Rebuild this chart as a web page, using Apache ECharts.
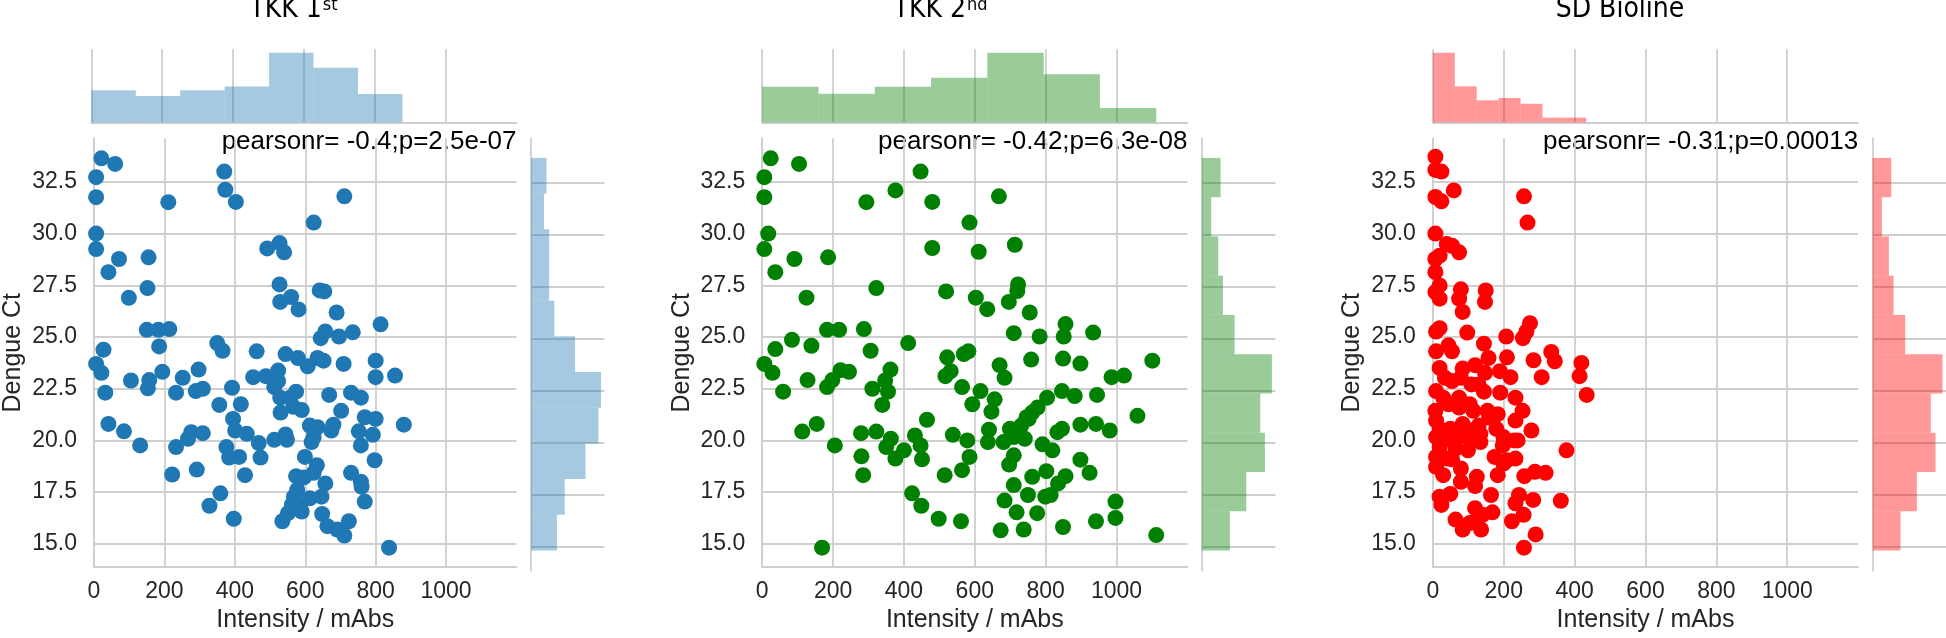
<!DOCTYPE html>
<html><head><meta charset="utf-8">
<script src="https://cdn.jsdelivr.net/npm/echarts@6/dist/echarts.min.js"></script>
<style>html,body{margin:0;padding:0;background:#fff}#c{width:1946px;height:638px}</style>
</head><body><div id="c"></div>
<script>
// ---------- data ----------
const panelTitles = ['TKK 1', 'TKK 2', 'SD Bioline'];
const panelTitleSup = ['st', 'nd', ''];
const pearsonLabels = ['pearsonr= -0.4;p=2.5e-07', 'pearsonr= -0.42;p=6.3e-08', 'pearsonr= -0.31;p=0.00013'];
const xName = 'Intensity / mAbs';
const yName = 'Dengue Ct';
const xTicks = [0, 200, 400, 600, 800, 1000];
const yTicks = [15, 17.5, 20, 22.5, 25, 27.5, 30, 32.5];
const xLimits = [0, 1200];
const yLimits = [13.87, 34.62];

const tkk1Points = [[21,33.65],[60,33.38],[6,32.74],[6,31.77],[6,30.01],[6,29.26],[211,31.53],[370,33.01],[373,32.13],[403,31.54],[711,31.81],[624,30.54],[492,29.29],[527,29.55],[540,29.1],[71,28.78],[155,28.86],[41,28.14],[152,27.37],[99,26.9],[527,27.55],[529,26.7],[560,26.94],[581,26.34],[641,27.26],[654,27.21],[689,26.19],[814,25.62],[150,25.35],[183,25.35],[214,25.39],[185,24.55],[27,24.39],[350,24.71],[365,24.34],[462,24.31],[544,24.18],[579,23.99],[607,23.59],[635,23.99],[652,23.86],[644,24.95],[657,25.27],[696,25.03],[735,25.23],[709,23.7],[800,23.86],[800,23.06],[855,23.14],[880,20.76],[6,23.7],[21,23.27],[32,22.31],[105,22.9],[157,22.92],[153,22.52],[194,23.32],[252,23.03],[233,22.31],[297,23.43],[289,22.39],[309,22.5],[392,22.55],[417,21.75],[356,21.72],[452,23.06],[488,23.11],[523,23.38],[523,22.87],[512,22.58],[529,22.07],[530,21.35],[557,22.07],[574,22.36],[566,21.63],[590,21.47],[668,22.2],[730,22.31],[758,22.07],[702,21.43],[41,20.8],[85,20.44],[131,19.76],[233,19.68],[267,20.08],[276,20.4],[309,20.35],[395,21.04],[401,20.48],[434,20.32],[376,19.68],[384,19.17],[412,19.2],[468,19.87],[473,19.17],[512,20.03],[544,20.29],[548,20.03],[613,20.72],[635,20.64],[624,20.16],[618,19.92],[680,20.76],[674,20.48],[752,20.44],[769,21.12],[800,21.04],[792,20.27],[758,19.76],[797,19.04],[599,19.2],[633,18.8],[624,18.43],[574,18.27],[596,18.21],[657,17.92],[222,18.35],[292,18.59],[429,18.32],[730,18.43],[758,18.0],[760,17.76],[769,17.04],[359,17.44],[328,16.84],[397,16.21],[568,17.28],[585,16.88],[613,17.2],[646,17.28],[551,16.48],[590,16.56],[535,16.09],[648,16.44],[663,15.85],[691,15.69],[711,15.4],[724,16.09],[838,14.81],[577,17.6],[562,16.88]];

const tkk2Points = [[24,33.65],[104,33.38],[447,33.01],[6,32.74],[376,32.1],[294,31.53],[480,31.54],[668,31.81],[6,31.77],[585,30.54],[17,30.01],[6,29.26],[480,29.31],[611,29.13],[713,29.47],[91,28.78],[186,28.86],[37,28.14],[322,27.37],[519,27.21],[125,26.91],[603,26.91],[722,27.55],[720,27.23],[696,26.7],[635,26.35],[755,26.19],[856,25.63],[183,25.35],[217,25.35],[287,25.39],[84,24.87],[37,24.42],[139,24.58],[306,24.34],[412,24.71],[710,25.19],[783,25.03],[851,25.03],[934,25.22],[569,24.18],[582,24.31],[522,24.02],[759,23.91],[849,23.96],[898,23.72],[1101,23.86],[6,23.7],[29,23.27],[59,22.36],[128,22.92],[183,22.58],[198,22.92],[221,23.4],[245,23.32],[311,22.5],[339,21.72],[347,22.9],[355,22.36],[362,23.43],[517,23.11],[532,23.35],[564,22.58],[593,21.75],[616,22.39],[656,21.99],[647,21.39],[670,23.64],[684,23.03],[945,22.2],[986,23.06],[1021,23.14],[1059,21.19],[804,22.07],[846,22.39],[882,22.15],[777,21.59],[746,21.12],[465,21.0],[113,20.43],[154,20.8],[205,19.76],[279,20.35],[322,20.43],[280,19.23],[285,18.32],[350,19.68],[363,20.08],[376,19.12],[400,19.52],[431,20.24],[447,19.76],[451,19.09],[538,20.27],[579,20.0],[585,19.2],[564,18.56],[515,18.32],[640,20.52],[637,19.92],[681,19.92],[699,20.56],[710,20.16],[741,20.08],[752,21.04],[791,19.81],[819,19.52],[833,20.4],[846,20.56],[898,20.76],[942,20.8],[981,20.48],[710,19.28],[697,18.83],[898,19.07],[924,18.43],[762,18.24],[802,18.51],[835,17.92],[856,18.27],[710,17.84],[750,17.36],[799,17.28],[814,17.36],[684,17.09],[718,16.52],[776,16.48],[423,17.44],[449,16.84],[498,16.21],[561,16.09],[673,15.65],[738,15.69],[849,15.81],[942,16.09],[997,17.04],[997,16.25],[1112,15.42],[169,14.81],[762,21.35],[731,20.72]];

const sdPoints = [[7,33.73],[7,33.09],[24,33.01],[59,32.1],[7,31.78],[24,31.57],[257,31.81],[267,30.54],[7,30.01],[39,29.5],[74,29.1],[19,28.94],[7,28.14],[19,27.5],[79,27.31],[149,27.26],[74,26.86],[19,26.86],[147,26.7],[84,26.22],[274,25.67],[19,25.43],[97,25.22],[207,25.03],[254,24.95],[264,25.27],[144,24.68],[44,24.6],[54,24.31],[9,24.31],[334,24.28],[344,23.83],[419,23.75],[414,23.11],[434,22.2],[284,23.88],[307,23.06],[209,24.02],[157,23.99],[119,23.64],[84,23.48],[147,23.27],[189,23.35],[219,23.06],[19,23.51],[34,23.03],[54,22.87],[79,23.03],[109,22.71],[144,22.36],[190,22.31],[233,22.07],[9,22.39],[29,22.07],[44,21.75],[74,21.59],[104,21.75],[114,21.43],[154,21.43],[183,21.27],[253,21.43],[233,20.96],[278,20.48],[9,20.96],[19,20.56],[49,20.56],[84,20.8],[109,20.48],[134,20.32],[179,20.56],[199,20.16],[239,20.0],[9,20.16],[39,20.08],[74,20.16],[104,20.08],[134,19.92],[19,19.68],[64,19.6],[197,19.76],[229,20.0],[377,19.52],[9,19.2],[39,19.12],[174,19.2],[199,18.88],[233,19.12],[29,18.32],[79,18.64],[124,18.24],[183,18.32],[258,18.27],[288,18.48],[318,18.43],[79,18.0],[119,17.79],[49,17.41],[24,16.88],[19,17.28],[164,17.36],[243,17.36],[233,16.96],[283,17.12],[361,17.08],[64,16.17],[84,15.69],[119,16.72],[119,16.09],[136,15.69],[140,16.4],[168,16.52],[223,16.09],[256,16.4],[290,15.45],[257,14.81],[104,16.0],[9,18.72],[7,21.43],[9,25.27],[7,27.18],[7,28.78],[54,29.42],[129,22.71],[74,22.07],[159,21.11],[209,19.04],[54,19.09],[99,19.52],[129,20.72]];

// marginal histograms (bin counts, equal-width bins spanning the given range)
const tkk1XHist = [17, 14, 17, 19, 37, 29, 15];
const tkk2XHist = [20, 16, 20, 25, 39, 27, 8];
const sdXHist = [60, 31, 19, 21, 16, 4, 4];
const tkk1XHistRange = [0, 878];
const tkk2XHistRange = [0, 1112];
const sdXHistRange = [0, 433];
// y histograms, bins from bottom to top
const tkk1YHist = [10, 13, 21, 26, 27, 17, 9, 7, 7, 5, 6];
const tkk2YHist = [12, 19, 27, 25, 30, 14, 9, 7, 4, 8];
const sdYHist = [12, 19, 27, 25, 30, 14, 9, 7, 4, 8];
const yHistRange = [14.84, 33.68];

const seriesColors = ['#1f77b4', '#008000', '#ff0000'];

// ---------- layout / style ----------
const panels = [
  {pts: tkk1Points, xh: tkk1XHist, xr: tkk1XHistRange, yh: tkk1YHist},
  {pts: tkk2Points, xh: tkk2XHist, xr: tkk2XHistRange, yh: tkk2YHist},
  {pts: sdPoints, xh: sdXHist, xr: sdXHistRange, yh: sdYHist}
];
const panelLeft = [91.3, 762.2, 1432.9];
const titleCenter = [293, 940, 1620];
const mainW = 425.2, mainTop = 138.3, mainH = 432.4;
const topTop = 49.3, topH = 73;
const rightGap = 14.5, rightW = 73.5;
const gridColor = '#cfcfcf';
const gridWidth = 1.8;
const sansFont = '"Liberation Sans", Arial, sans-serif';
const narrowFont = '"Liberation Sans Narrow", "DejaVu Sans Condensed", "Liberation Sans", sans-serif';
const textColor = '#262626';
const titleMainSize = 28, titleSupSize = 18;

function histSeries(counts, range, xi, yi, color, horizontal) {
  const n = counts.length, w = (range[1] - range[0]) / n;
  const data = counts.map((c, i) => [range[0] + i * w, range[0] + (i + 1) * w, c]);
  return {
    type: 'custom', xAxisIndex: xi, yAxisIndex: yi, data: data, silent: true,
    encode: horizontal ? {x: 2, y: [0, 1]} : {x: [0, 1], y: 2},
    renderItem: function (params, api) {
      const a = api.value(0), b = api.value(1), c = api.value(2);
      let p0, p1;
      if (!horizontal) { p0 = api.coord([a, 0]); p1 = api.coord([b, c]); }
      else { p0 = api.coord([0, a]); p1 = api.coord([c, b]); }
      return {
        type: 'rect',
        shape: {x: Math.min(p0[0], p1[0]), y: Math.min(p0[1], p1[1]),
                width: Math.abs(p1[0] - p0[0]), height: Math.abs(p1[1] - p0[1])},
        style: {fill: color, opacity: 0.4}
      };
    }
  };
}

const measureCtx = document.createElement('canvas').getContext('2d');
function textWidth(str, size, family) {
  measureCtx.font = size + 'px ' + family;
  return measureCtx.measureText(str).width;
}

const grid = [], xAxis = [], yAxis = [], series = [], graphic = [];
const lineStyle = {color: gridColor, width: gridWidth};

panels.forEach((p, k) => {
  const L = panelLeft[k];
  const g0 = grid.length;
  grid.push({left: L, top: mainTop, width: mainW, height: mainH});
  grid.push({left: L, top: topTop, width: mainW, height: topH});
  grid.push({left: L + mainW + rightGap, top: mainTop, width: rightW, height: mainH});

  // main axes
  xAxis.push({gridIndex: g0, type: 'value', min: xLimits[0], max: xLimits[1],
    axisLine: {show: true, onZero: false, lineStyle: lineStyle},
    axisTick: {show: false, customValues: xTicks},
    axisLabel: {customValues: xTicks, fontSize: 23, color: textColor, fontFamily: sansFont, margin: 13,
      formatter: v => String(v)},
    splitLine: {show: true, lineStyle: lineStyle},
    name: xName, nameLocation: 'middle', nameGap: 33,
    nameTextStyle: {fontSize: 25, color: textColor, fontFamily: sansFont}});
  yAxis.push({gridIndex: g0, type: 'value', min: yLimits[0], max: yLimits[1],
    axisLine: {show: true, onZero: false, lineStyle: lineStyle},
    axisTick: {show: false, customValues: yTicks},
    axisLabel: {customValues: yTicks, fontSize: 23, color: textColor, fontFamily: sansFont, margin: 17,
      formatter: v => Number(v).toFixed(1)},
    splitLine: {show: true, lineStyle: lineStyle},
    name: yName, nameLocation: 'middle', nameRotate: 90, nameGap: 68,
    nameTextStyle: {fontSize: 25, color: textColor, fontFamily: sansFont}});

  // top marginal
  const xmax = Math.max.apply(null, p.xh);
  xAxis.push({gridIndex: g0 + 1, type: 'value', min: xLimits[0], max: xLimits[1],
    axisLine: {show: true, onZero: false, lineStyle: lineStyle},
    axisTick: {show: false, customValues: xTicks},
    axisLabel: {show: false, customValues: xTicks},
    splitLine: {show: true, lineStyle: lineStyle}});
  yAxis.push({gridIndex: g0 + 1, type: 'value', min: 0, max: xmax * 1.05, show: false,
    splitLine: {show: false}});

  // right marginal
  const ymax = Math.max.apply(null, p.yh);
  xAxis.push({gridIndex: g0 + 2, type: 'value', min: 0, max: ymax * 1.05, show: false,
    splitLine: {show: false}});
  yAxis.push({gridIndex: g0 + 2, type: 'value', min: yLimits[0], max: yLimits[1],
    axisLine: {show: true, onZero: false, lineStyle: lineStyle},
    axisTick: {show: false, customValues: yTicks},
    axisLabel: {show: false, customValues: yTicks},
    splitLine: {show: true, lineStyle: lineStyle}});

  series.push({type: 'scatter', xAxisIndex: g0, yAxisIndex: g0, data: p.pts,
    symbol: 'circle', symbolSize: 16, itemStyle: {color: seriesColors[k], opacity: 1}, silent: true});
  series.push(histSeries(p.xh, p.xr, g0 + 1, g0 + 1, seriesColors[k], false));
  series.push(histSeries(p.yh, yHistRange, g0 + 2, g0 + 2, seriesColors[k], true));

  graphic.push({type: 'text', silent: true, style: {
    text: pearsonLabels[k], x: L + mainW, y: 142, align: 'right', verticalAlign: 'middle',
    font: '26px ' + sansFont, fill: '#000'}});

  // title with superscript
  const wMain = textWidth(panelTitles[k], titleMainSize, narrowFont);
  const wSup = panelTitleSup[k] ? textWidth(panelTitleSup[k], titleSupSize, narrowFont) : 0;
  const left = titleCenter[k] - (wMain + wSup) / 2;
  graphic.push({type: 'text', silent: true, style: {
    text: panelTitles[k], x: left, y: 10, align: 'left', verticalAlign: 'middle',
    font: titleMainSize + 'px ' + narrowFont, fill: '#000'}});
  if (panelTitleSup[k]) {
    graphic.push({type: 'text', silent: true, style: {
      text: panelTitleSup[k], x: left + wMain + 1, y: 5.5, align: 'left', verticalAlign: 'middle',
      font: titleSupSize + 'px ' + narrowFont, fill: '#000'}});
  }
});

const chart = echarts.init(document.getElementById('c'), null, {renderer: 'canvas'});
chart.setOption({animation: false, backgroundColor: '#fff', grid, xAxis, yAxis, series, graphic});
</script></body></html>
